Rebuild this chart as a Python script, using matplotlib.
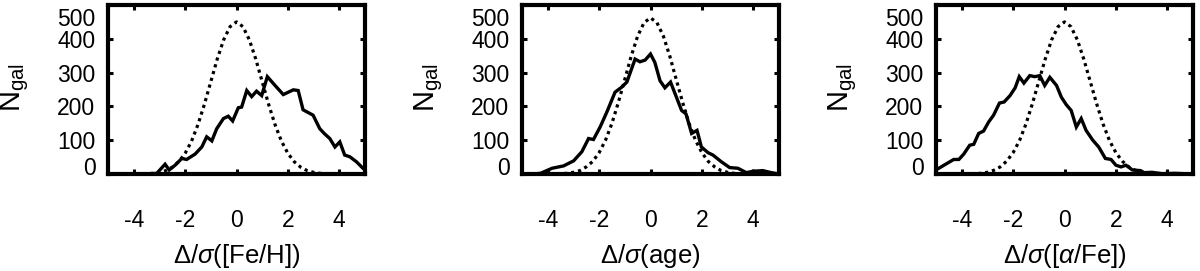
import matplotlib
matplotlib.use('Agg')
import matplotlib.pyplot as plt
from matplotlib.transforms import ScaledTranslation

plt.rcParams['font.family'] = ['Liberation Sans', 'DejaVu Sans']
plt.rcParams['mathtext.fontset'] = 'custom'
plt.rcParams['mathtext.rm'] = 'Liberation Sans'
plt.rcParams['mathtext.it'] = 'Liberation Sans:italic'

# ---------------- data ----------------
feh_x = [-5.0, -4.5, -4.0, -3.5, -3.1, -2.78, -2.62, -2.39, -2.13, -1.94, -1.61, -1.35,
         -1.16, -0.96, -0.77, -0.51, -0.32, -0.15, 0.07, 0.20, 0.40, 0.59, 0.78, 0.98,
         1.20, 1.50, 1.82, 2.21, 2.40, 2.59, 2.98, 3.24, 3.44, 3.63, 3.83, 4.02, 4.21,
         4.41, 4.67, 4.92, 5.0]
feh_y = [0, 0, 1, 0, 2, 29, 12, 26, 46, 43, 59, 80,
         110, 98, 134, 164, 171, 157, 196, 198, 247, 229, 245, 232,
         288, 262, 235, 249, 247, 190, 174, 134, 118, 105, 80, 95, 56,
         51, 36, 17, 12]

age_x = [-5.0, -4.6, -4.28, -3.83, -3.38, -2.99, -2.67, -2.41, -2.22, -1.96, -1.70, -1.38,
         -1.12, -0.92, -0.60, -0.41, -0.21, 0.0, 0.17, 0.37, 0.56, 0.78, 1.01, 1.21,
         1.38, 1.60, 1.81, 1.98, 2.24, 2.43, 2.76, 3.08, 3.40, 3.73, 3.98, 4.37, 4.70, 5.0]
age_y = [0, 0, 2, 17, 24, 39, 66, 105, 102, 139, 183, 242,
         257, 272, 340, 332, 337, 355, 330, 276, 255, 272, 227, 188,
         178, 120, 129, 80, 63, 56, 36, 19, 17, 4, 8, 10, 4, 0]

alfe_x = [-5.0, -4.69, -4.31, -4.11, -3.92, -3.69, -3.53, -3.34, -3.15, -2.95, -2.76, -2.53,
          -2.35, -2.12, -1.92, -1.76, -1.58, -1.35, -1.16, -0.96, -0.77, -0.57, -0.31, -0.12,
          0.07, 0.26, 0.46, 0.65, 0.84, 1.10, 1.33, 1.59, 1.81, 2.0, 2.2, 2.39, 2.64, 2.96,
          3.1, 3.4, 3.8, 4.3, 5.0]
alfe_y = [12, 26, 43, 43, 59, 85, 88, 120, 127, 154, 174, 210,
          213, 232, 255, 288, 269, 291, 288, 291, 262, 286, 262, 227,
          205, 188, 139, 164, 129, 100, 80, 46, 43, 26, 21, 26, 12, 10,
          4, 5, 1, 2, 0]

ref_x = [-5.0, -4.5, -4.0, -3.5, -3.25, -3.0, -2.75, -2.5, -2.25, -2.0, -1.75, -1.5, -1.25,
         -1.0, -0.75, -0.5, -0.25, 0.0, 0.25, 0.5, 0.75, 1.0, 1.25, 1.5, 1.75, 2.0, 2.25,
         2.5, 2.75, 3.0, 3.25, 3.5, 4.0, 4.5, 5.0]
ref_feh = [0, 0, 0, 1, 2, 5, 10, 20, 36, 61, 97, 146, 206,
           273, 340, 397, 436, 450, 436, 397, 340, 273, 206, 146, 97, 61, 36,
           20, 10, 5, 2, 1, 0, 0, 0]
ref_age = [0, 0, 0, 1, 2, 5, 10, 21, 37, 63, 100, 150, 212,
           280, 349, 408, 448, 462, 448, 408, 349, 280, 212, 150, 100, 63, 37,
           21, 10, 5, 2, 1, 0, 0, 0]
ref_alfe = [0, 0, 0, 1, 2, 5, 11, 21, 38, 63, 99, 148, 208,
            274, 340, 397, 436, 450, 436, 397, 340, 274, 208, 148, 99, 63, 38,
            21, 11, 5, 2, 1, 0, 0, 0]

xticks = [-4, -2, 0, 2, 4]
xticklabels = ['-4', '-2', '0', '2', '4']
yticks = [0, 100, 200, 300, 400, 500]
yticklabels = ['0', '100', '200', '300', '400', '500']
xlabels = [r'$\Delta/\sigma$([Fe/H])', r'$\Delta/\sigma$(age)', r'$\Delta/\sigma$([$\alpha$/Fe])']
ylabel = r'N$_{\mathregular{gal}}$'

panels = [(feh_x, feh_y, ref_feh), (age_x, age_y, ref_age), (alfe_x, alfe_y, ref_alfe)]

# ---------------- figure ----------------
W, H = 1200, 271
fig = plt.figure(figsize=(W / 100, H / 100), dpi=100)
lefts = [108, 522, 936]
ax_w, ax_bot, ax_top = 257, 174, 5

for i, (sx, sy, ry) in enumerate(panels):
    ax = fig.add_axes([lefts[i] / W, 1 - ax_bot / H, ax_w / W, (ax_bot - ax_top) / H])
    ax.plot(ref_x, ry, color='black', lw=2.3, linestyle=(0, (1, 1.2)),
            dash_capstyle='butt')
    ax.plot(sx, sy, color='black', lw=2.4, solid_joinstyle='miter')
    ax.set_xlim(-5, 5)
    ax.set_ylim(0, 500)
    ax.set_xticks(xticks)
    ax.set_xticklabels(xticklabels)
    ax.set_yticks(yticks)
    ax.set_yticklabels(yticklabels)
    for s in ax.spines.values():
        s.set_linewidth(3)
    ax.tick_params(direction='in', length=3.3, width=2.2, top=True, right=True,
                   labelsize=16.5, color='black')
    ax.tick_params(axis='x', pad=25)
    ax.tick_params(axis='y', pad=9.0)
    ax.minorticks_off()
    # shift end labels inward (as in the original)
    labs = ax.get_yticklabels()
    labs[0].set_transform(labs[0].get_transform() + ScaledTranslation(0, 8 / 100, fig.dpi_scale_trans))
    labs[-1].set_transform(labs[-1].get_transform() + ScaledTranslation(0, -12 / 100, fig.dpi_scale_trans))

    ax.set_xlabel(xlabels[i], fontsize=18.5, va='center')
    ax.xaxis.set_label_coords(0.5, (ax_bot - 256) / (ax_bot - ax_top))
    ax.set_ylabel(ylabel, fontsize=21, va='center', ha='center')
    ax.yaxis.set_label_coords(-93 / ax_w, (ax_bot - 87) / (ax_bot - ax_top))

fig.savefig('out.png', dpi=100)
